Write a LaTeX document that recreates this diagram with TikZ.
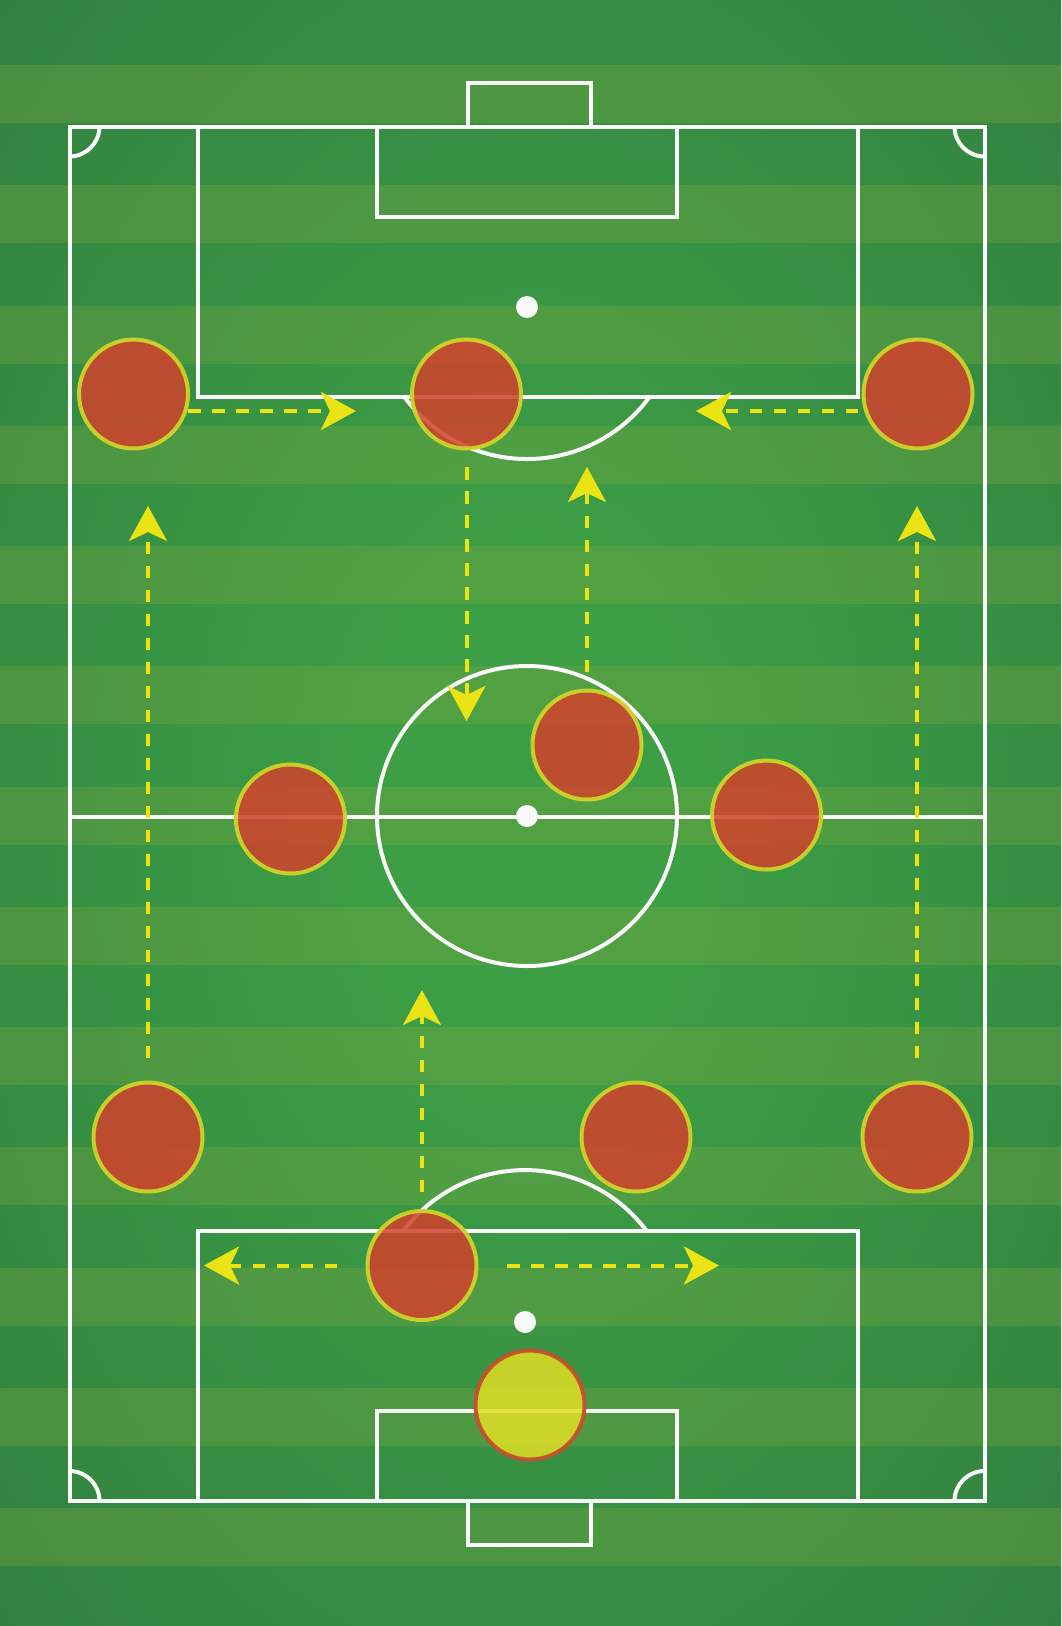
\documentclass[tikz,border=0pt]{standalone}
\usetikzlibrary{arrows.meta}
\definecolor{pin}{RGB}{60,158,69}
\definecolor{pout}{RGB}{47,122,63}
\definecolor{stripecol}{RGB}{130,170,64}
\definecolor{linew}{RGB}{250,250,250}
\definecolor{pred}{RGB}{210,65,44}
\definecolor{pring}{RGB}{205,212,42}
\definecolor{gkfill}{RGB}{225,223,37}
\definecolor{gkring}{RGB}{196,80,46}
\definecolor{arrowy}{RGB}{234,228,21}
\pgfdeclareradialshading{pitchglow}{\pgfpoint{0bp}{0bp}}{color(0bp)=(pin); color(8bp)=(pin); color(42bp)=(pout); color(50bp)=(pout)}
\begin{document}
\begin{tikzpicture}[x=1pt,y=-1pt,
  pline/.style={draw=linew, line width=4pt},
  spot/.style={fill=linew},
  player/.style={circle, minimum size=109pt, inner sep=0pt, fill=pred, fill opacity=0.85, draw=pring, draw opacity=0.95, line width=4pt},
  keeper/.style={player, fill=gkfill, draw=gkring},
  move/.style={draw=arrowy, line width=4pt, dash pattern=on 12.5pt off 11.5pt, -{Stealth[length=35pt,width=38pt,inset=9pt]}}]
\useasboundingbox (0,0) rectangle (1061,1626);
% grass
\shade[shading=pitchglow] (0,0) rectangle (1061,1626);
\foreach \k in {0,...,12}{
  \fill[stripecol, opacity=0.3] (0,{65+120.25*\k}) rectangle (1061,{123+120.25*\k});
}
% pitch lines
\draw[pline] (69.5,126.5) rectangle (984.5,1501);
\draw[pline] (69.5,817) -- (984.5,817);
\draw[pline] (527,816) circle[radius=150];
\draw[pline] (198,126.5) rectangle (858,397);
\draw[pline] (376.5,126.5) rectangle (677,217);
\draw[pline] (468,83) rectangle (591,126.5);
\draw[pline] (198,1231) rectangle (858,1501);
\draw[pline] (376.5,1411) rectangle (677,1501);
\draw[pline] (468,1501) rectangle (591,1545);
\draw[pline] (649.5,397) arc[start angle=36.3, end angle=143.7, radius=152];
\draw[pline] (403.3,1231) arc[start angle=216.8, end angle=323.2, radius=152];
\draw[pline] (99.5,126.5) arc[start angle=0, end angle=90, radius=30];
\draw[pline] (954.5,126.5) arc[start angle=180, end angle=90, radius=30];
\draw[pline] (99.5,1501) arc[start angle=0, end angle=-90, radius=30];
\draw[pline] (954.5,1501) arc[start angle=180, end angle=270, radius=30];
\fill[spot] (527,307) circle[radius=11];
\fill[spot] (527,816) circle[radius=11];
\fill[spot] (525,1322) circle[radius=11];
% players
\node[player] (p1) at (133.5,394) {};
\node[player] (p2) at (466.5,394) {};
\node[player] (p3) at (918,394) {};
\node[player] (p4) at (587,745) {};
\node[player] (p5) at (290.5,819) {};
\node[player] (p6) at (766.5,815) {};
\node[player] (p7) at (148,1137) {};
\node[player] (p8) at (636,1137) {};
\node[player] (p9) at (917,1137) {};
\node[player] (p10) at (422,1265.5) {};
\node[keeper] (gk) at (530,1405) {};
% movement arrows
\coordinate (a1) at (188,411);   \coordinate (a2) at (356,411);
\coordinate (b1) at (858,411);   \coordinate (b2) at (696,411);
\coordinate (c1) at (466.5,467); \coordinate (c2) at (466.5,721);
\coordinate (d1) at (587,672);   \coordinate (d2) at (587,467);
\coordinate (e1) at (148,1058);  \coordinate (e2) at (148,506);
\coordinate (f1) at (917,1058);  \coordinate (f2) at (917,506);
\coordinate (g1) at (422,1192);  \coordinate (g2) at (422,990);
\coordinate (h1) at (337,1265.5); \coordinate (h2) at (204,1265.5);
\coordinate (i1) at (507,1265.5); \coordinate (i2) at (719,1265.5);
\draw[move] (a1) -- (a2);
\draw[move] (b1) -- (b2);
\draw[move] (c1) -- (c2);
\draw[move] (d1) -- (d2);
\draw[move] (e1) -- (e2);
\draw[move] (f1) -- (f2);
\draw[move] (g1) -- (g2);
\draw[move] (h1) -- (h2);
\draw[move] (i1) -- (i2);
\end{tikzpicture}
\end{document}
